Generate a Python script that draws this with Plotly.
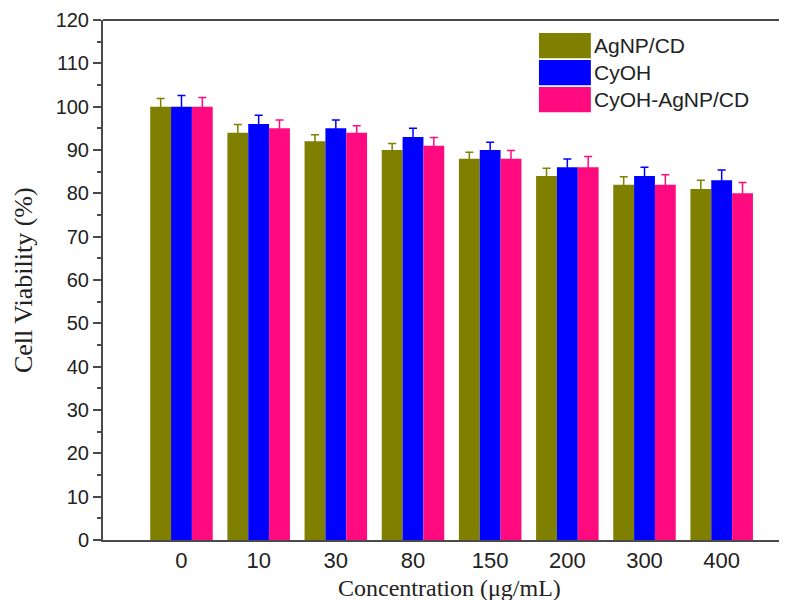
import plotly.graph_objects as go

categories = ["0", "10", "30", "80", "150", "200", "300", "400"]
agnp_cd = [100, 94, 92, 90, 88, 84, 82, 81]
agnp_cd_err = [1.9, 1.9, 1.5, 1.5, 1.5, 1.8, 1.8, 2.0]
cyoh = [100, 96, 95, 93, 90, 86, 84, 83]
cyoh_err = [2.6, 2.0, 1.9, 2.0, 1.8, 1.9, 2.0, 2.4]
cyoh_agnp = [100, 95, 94, 91, 88, 86, 82, 80]
cyoh_agnp_err = [2.1, 1.9, 1.6, 1.9, 1.9, 2.5, 2.3, 2.5]

x_title = "Concentration (μg/mL)"
y_title = "Cell Viability (%)"

series = [
    ("AgNP/CD", agnp_cd, agnp_cd_err, "#7F7F00"),
    ("CyOH", cyoh, cyoh_err, "#0000FF"),
    ("CyOH-AgNP/CD", cyoh_agnp, cyoh_agnp_err, "#FF0A7F"),
]

fig = go.Figure()
for name, vals, errs, color in series:
    fig.add_trace(go.Bar(
        x=categories, y=vals, name=name, showlegend=False,
        marker=dict(color=color, line=dict(width=0)),
        error_y=dict(type="data", array=errs, color=color, thickness=1.5, width=4),
    ))

# legend drawn as large swatches (paper coordinates)
leg_x0, leg_x1, leg_top, leg_h = 0.630, 0.705, 0.975, 0.052
for i, (name, _, _, color) in enumerate(series):
    y1 = leg_top - i * leg_h
    y0 = y1 - leg_h * 0.93
    fig.add_shape(type="rect", xref="paper", yref="paper",
                  x0=leg_x0, x1=leg_x1, y0=y0, y1=y1,
                  fillcolor=color, line=dict(width=0))
    fig.add_annotation(xref="paper", yref="paper", x=leg_x1 + 0.002, y=(y0 + y1) / 2,
                       text=name, showarrow=False, xanchor="left", yanchor="middle",
                       font=dict(family="Liberation Sans, Arial", size=21, color="#222222"))

fig.add_annotation(xref="paper", yref="paper", x=0.5, y=-0.093, text=x_title,
                   showarrow=False, xanchor="center", yanchor="middle", borderpad=0,
                   font=dict(family="Liberation Serif, Times New Roman", size=24, color="#222222"))
fig.add_annotation(xref="paper", yref="paper", x=-0.1155, y=0.5, text=y_title, textangle=-90,
                   showarrow=False, xanchor="center", yanchor="middle",
                   font=dict(family="Liberation Serif, Times New Roman", size=26, color="#222222"))

axis_color = "#4a4a4a"
fig.update_layout(
    width=787, height=600,
    margin=dict(l=95, r=0, t=12, b=68),
    plot_bgcolor="white", paper_bgcolor="white",
    barmode="group", bargap=0.19, bargroupgap=0,
    xaxis=dict(
        type="category", range=[-1.017, 7.95],
        showline=True, linecolor=axis_color, linewidth=2,
        ticks="", showgrid=False, zeroline=False,
        tickfont=dict(family="Liberation Sans, Arial", size=22, color="#222222"),
    ),
    yaxis=dict(
        range=[0, 120], dtick=10, tick0=0,
        showline=True, linecolor=axis_color, linewidth=2,
        ticks="outside", ticklen=8, tickwidth=2, tickcolor=axis_color,
        minor=dict(dtick=5, ticks="outside", ticklen=4, tickwidth=2, tickcolor=axis_color),
        showgrid=False, zeroline=False,
        tickfont=dict(family="Liberation Sans, Arial", size=20, color="#222222"),
    ),
)

# top frame line
fig.add_shape(type="line", xref="paper", yref="paper", x0=0, x1=1, y0=1, y1=1,
              line=dict(color=axis_color, width=2))

fig.write_html("out.html")
